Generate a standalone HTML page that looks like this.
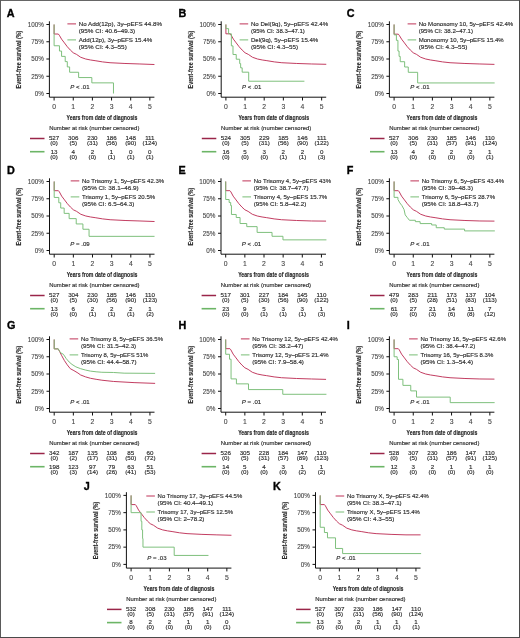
<!DOCTYPE html>
<html><head><meta charset="utf-8"><style>
html,body{margin:0;padding:0;background:#fff;}
body{width:520px;height:638px;overflow:hidden;}
svg{display:block;filter:blur(0.35px);}
text{font-family:"Liberation Sans",sans-serif;fill:#2c2c2c;}
.t{font-size:6.2px;stroke:#2c2c2c;stroke-width:0.15px;}
.tk{font-size:6.8px;fill:#444;stroke:#444;stroke-width:0.1px;}
.lab{font-size:10.8px;font-weight:bold;fill:#000;stroke:#000;stroke-width:0.35px;}
.ytitle,.xtitle{font-size:8px;font-weight:bold;fill:#2a2a2a;stroke:#2a2a2a;stroke-width:0.15px;}
.ax{stroke:#111;stroke-width:1;fill:none;}
.cr{stroke:#bf3358;stroke-width:0.95;fill:none;stroke-linejoin:round;}
.cg{stroke:#78bd76;stroke-width:0.95;fill:none;}
.lr{stroke:#bf3358;stroke-width:1;}
.lg{stroke:#78bd76;stroke-width:1;}
.rr{stroke:#9a2549;stroke-width:1.5;}
.rg{stroke:#6cb566;stroke-width:1.6;}
</style></head>
<body><svg width="520" height="638" viewBox="0 0 520 638">
<rect x="0" y="0" width="520" height="638" fill="#fff"/>
<text x="6.8" y="16.8" class="lab">A</text>
<text transform="translate(21.1,59.6) rotate(-90)" class="ytitle" text-anchor="middle" textLength="57.6" lengthAdjust="spacingAndGlyphs">Event-free survival (%)</text>
<line x1="46.4" y1="24.5" x2="49.4" y2="24.5" class="ax"/>
<text x="43.8" y="26.8" class="tk" text-anchor="end" textLength="16.17" lengthAdjust="spacingAndGlyphs">100%</text>
<line x1="46.4" y1="41.75" x2="49.4" y2="41.75" class="ax"/>
<text x="43.8" y="44.05" class="tk" text-anchor="end" textLength="12.66" lengthAdjust="spacingAndGlyphs">75%</text>
<line x1="46.4" y1="59" x2="49.4" y2="59" class="ax"/>
<text x="43.8" y="61.3" class="tk" text-anchor="end" textLength="12.66" lengthAdjust="spacingAndGlyphs">50%</text>
<line x1="46.4" y1="76.25" x2="49.4" y2="76.25" class="ax"/>
<text x="43.8" y="78.55" class="tk" text-anchor="end" textLength="12.66" lengthAdjust="spacingAndGlyphs">25%</text>
<line x1="46.4" y1="93.5" x2="49.4" y2="93.5" class="ax"/>
<text x="43.8" y="95.8" class="tk" text-anchor="end" textLength="9.14" lengthAdjust="spacingAndGlyphs">0%</text>
<path d="M54.1,24.5 L54.1,34.02 L58.31,34.02 L59.27,35.2 L61.57,39.13 L64.44,42.92 L67.31,46.72 L70.38,50.1 L73.25,52.79 L76.51,54.38 L80.72,57.27 L85.7,59 L90.48,59.97 L95.08,60.66 L102.55,61.9 L110.02,62.73 L124.96,63.48 L139.89,63.97 L154.45,64.52" class="cr"/>
<path d="M54.1,24.5 L54.1,45.75 L59.46,45.75 L59.46,51.06 L61.57,51.06 L61.57,56.38 L65.21,56.38 L65.21,61.62 L67.31,61.62 L67.31,66.94 L69.61,66.94 L69.61,72.25 L78.61,72.25 L78.61,77.56 L91.83,77.56 L91.83,82.87 L113.47,82.87 L113.47,93.5 L113.47,93.5" class="cg"/>
<path d="M49.4,21.3 L49.4,97.2 L154.4,97.2" class="ax" fill="none"/>
<line x1="54.1" y1="97.2" x2="54.1" y2="100.5" class="ax"/>
<text x="54.1" y="108.8" class="tk" text-anchor="middle">0</text>
<line x1="73.25" y1="97.2" x2="73.25" y2="100.5" class="ax"/>
<text x="73.25" y="108.8" class="tk" text-anchor="middle">1</text>
<line x1="92.4" y1="97.2" x2="92.4" y2="100.5" class="ax"/>
<text x="92.4" y="108.8" class="tk" text-anchor="middle">2</text>
<line x1="111.55" y1="97.2" x2="111.55" y2="100.5" class="ax"/>
<text x="111.55" y="108.8" class="tk" text-anchor="middle">3</text>
<line x1="130.7" y1="97.2" x2="130.7" y2="100.5" class="ax"/>
<text x="130.7" y="108.8" class="tk" text-anchor="middle">4</text>
<line x1="149.85" y1="97.2" x2="149.85" y2="100.5" class="ax"/>
<text x="149.85" y="108.8" class="tk" text-anchor="middle">5</text>
<text x="102" y="119.7" class="xtitle" text-anchor="middle" textLength="70.8" lengthAdjust="spacingAndGlyphs">Years from date of diagnosis</text>
<line x1="67.4" y1="23.9" x2="76" y2="23.9" class="lr"/>
<line x1="67.4" y1="39.9" x2="76" y2="39.9" class="lg"/>
<text x="78.7" y="26.2" class="t" textLength="83.3" lengthAdjust="spacingAndGlyphs">No Add(12p), 3y–pEFS 44.8%</text>
<text x="78.7" y="33.2" class="t" textLength="56.5" lengthAdjust="spacingAndGlyphs">(95% CI: 40.6–49.3)</text>
<text x="78.7" y="41.7" class="t" textLength="73.5" lengthAdjust="spacingAndGlyphs">Add(12p), 3y–pEFS 15.4%</text>
<text x="78.7" y="48.7" class="t" textLength="48.1" lengthAdjust="spacingAndGlyphs">(95% CI: 4.3–55)</text>
<text x="70.2" y="88.8" class="t" textLength="19.3" lengthAdjust="spacingAndGlyphs"><tspan font-style="italic">P</tspan> &lt; .01</text>
<text x="49.2" y="130.4" class="t" textLength="90.2" lengthAdjust="spacingAndGlyphs">Number at risk (number censored)</text>
<line x1="30" y1="138.5" x2="44.5" y2="138.5" class="rr"/>
<line x1="30" y1="151.7" x2="44.5" y2="151.7" class="rg"/>
<text x="54.1" y="140.3" class="t" text-anchor="middle">527</text>
<text x="54.1" y="145.4" class="t" text-anchor="middle">(0)</text>
<text x="73.25" y="140.3" class="t" text-anchor="middle">306</text>
<text x="73.25" y="145.4" class="t" text-anchor="middle">(5)</text>
<text x="92.4" y="140.3" class="t" text-anchor="middle">230</text>
<text x="92.4" y="145.4" class="t" text-anchor="middle">(31)</text>
<text x="111.55" y="140.3" class="t" text-anchor="middle">186</text>
<text x="111.55" y="145.4" class="t" text-anchor="middle">(56)</text>
<text x="130.7" y="140.3" class="t" text-anchor="middle">148</text>
<text x="130.7" y="145.4" class="t" text-anchor="middle">(90)</text>
<text x="149.85" y="140.3" class="t" text-anchor="middle">111</text>
<text x="149.85" y="145.4" class="t" text-anchor="middle">(124)</text>
<text x="54.1" y="153.8" class="t" text-anchor="middle">13</text>
<text x="54.1" y="158.7" class="t" text-anchor="middle">(0)</text>
<text x="73.25" y="153.8" class="t" text-anchor="middle">4</text>
<text x="73.25" y="158.7" class="t" text-anchor="middle">(0)</text>
<text x="92.4" y="153.8" class="t" text-anchor="middle">2</text>
<text x="92.4" y="158.7" class="t" text-anchor="middle">(0)</text>
<text x="111.55" y="153.8" class="t" text-anchor="middle">1</text>
<text x="111.55" y="158.7" class="t" text-anchor="middle">(1)</text>
<text x="130.7" y="153.8" class="t" text-anchor="middle">0</text>
<text x="130.7" y="158.7" class="t" text-anchor="middle">(1)</text>
<text x="149.85" y="153.8" class="t" text-anchor="middle">0</text>
<text x="149.85" y="158.7" class="t" text-anchor="middle">(1)</text>
<text x="178.6" y="16.8" class="lab">B</text>
<text transform="translate(192.9,59.6) rotate(-90)" class="ytitle" text-anchor="middle" textLength="57.6" lengthAdjust="spacingAndGlyphs">Event-free survival (%)</text>
<line x1="218.2" y1="24.5" x2="221.2" y2="24.5" class="ax"/>
<text x="215.6" y="26.8" class="tk" text-anchor="end" textLength="16.17" lengthAdjust="spacingAndGlyphs">100%</text>
<line x1="218.2" y1="41.75" x2="221.2" y2="41.75" class="ax"/>
<text x="215.6" y="44.05" class="tk" text-anchor="end" textLength="12.66" lengthAdjust="spacingAndGlyphs">75%</text>
<line x1="218.2" y1="59" x2="221.2" y2="59" class="ax"/>
<text x="215.6" y="61.3" class="tk" text-anchor="end" textLength="12.66" lengthAdjust="spacingAndGlyphs">50%</text>
<line x1="218.2" y1="76.25" x2="221.2" y2="76.25" class="ax"/>
<text x="215.6" y="78.55" class="tk" text-anchor="end" textLength="12.66" lengthAdjust="spacingAndGlyphs">25%</text>
<line x1="218.2" y1="93.5" x2="221.2" y2="93.5" class="ax"/>
<text x="215.6" y="95.8" class="tk" text-anchor="end" textLength="9.14" lengthAdjust="spacingAndGlyphs">0%</text>
<path d="M225.9,24.5 L225.9,33.81 L230.11,33.81 L231.07,34.99 L233.37,39.13 L236.24,42.92 L239.11,46.72 L242.18,50.1 L245.05,52.79 L248.31,54.38 L252.52,57.27 L257.5,59 L262.28,59.97 L266.88,60.66 L274.35,61.9 L281.82,62.73 L296.75,63.48 L311.69,63.97 L326.25,64.31" class="cr"/>
<path d="M225.9,24.5 L225.9,24.5 L225.9,28.64 L228.58,28.64 L228.58,33.81 L231.36,33.81 L231.36,45.89 L232.99,45.89 L232.99,54.52 L236.24,54.52 L236.24,59.21 L239.69,59.21 L239.69,63.62 L240.65,63.62 L240.65,67.83 L242.18,67.83 L242.18,72.18 L248.69,72.18 L248.69,81.22 L304.41,81.22" class="cg"/>
<path d="M221.2,21.3 L221.2,97.2 L326.2,97.2" class="ax" fill="none"/>
<line x1="225.9" y1="97.2" x2="225.9" y2="100.5" class="ax"/>
<text x="225.9" y="108.8" class="tk" text-anchor="middle">0</text>
<line x1="245.05" y1="97.2" x2="245.05" y2="100.5" class="ax"/>
<text x="245.05" y="108.8" class="tk" text-anchor="middle">1</text>
<line x1="264.2" y1="97.2" x2="264.2" y2="100.5" class="ax"/>
<text x="264.2" y="108.8" class="tk" text-anchor="middle">2</text>
<line x1="283.35" y1="97.2" x2="283.35" y2="100.5" class="ax"/>
<text x="283.35" y="108.8" class="tk" text-anchor="middle">3</text>
<line x1="302.5" y1="97.2" x2="302.5" y2="100.5" class="ax"/>
<text x="302.5" y="108.8" class="tk" text-anchor="middle">4</text>
<line x1="321.65" y1="97.2" x2="321.65" y2="100.5" class="ax"/>
<text x="321.65" y="108.8" class="tk" text-anchor="middle">5</text>
<text x="273.8" y="119.7" class="xtitle" text-anchor="middle" textLength="70.8" lengthAdjust="spacingAndGlyphs">Years from date of diagnosis</text>
<line x1="239.6" y1="23.9" x2="248.2" y2="23.9" class="lr"/>
<line x1="239.6" y1="39.9" x2="248.2" y2="39.9" class="lg"/>
<text x="250.9" y="26.2" class="t" textLength="77.2" lengthAdjust="spacingAndGlyphs">No Del(9q), 5y–pEFS 42.4%</text>
<text x="250.9" y="33.2" class="t" textLength="54" lengthAdjust="spacingAndGlyphs">(95% CI: 38.3–47.1)</text>
<text x="250.9" y="41.7" class="t" textLength="67.4" lengthAdjust="spacingAndGlyphs">Del(9q), 5y–pEFS 15.4%</text>
<text x="250.9" y="48.7" class="t" textLength="47.1" lengthAdjust="spacingAndGlyphs">(95% CI: 4.3–55)</text>
<text x="242" y="88.8" class="t" textLength="19.3" lengthAdjust="spacingAndGlyphs"><tspan font-style="italic">P</tspan> &lt; .01</text>
<text x="221" y="130.4" class="t" textLength="90.2" lengthAdjust="spacingAndGlyphs">Number at risk (number censored)</text>
<line x1="201.8" y1="138.5" x2="216.3" y2="138.5" class="rr"/>
<line x1="201.8" y1="151.7" x2="216.3" y2="151.7" class="rg"/>
<text x="225.9" y="140.3" class="t" text-anchor="middle">524</text>
<text x="225.9" y="145.4" class="t" text-anchor="middle">(0)</text>
<text x="245.05" y="140.3" class="t" text-anchor="middle">305</text>
<text x="245.05" y="145.4" class="t" text-anchor="middle">(5)</text>
<text x="264.2" y="140.3" class="t" text-anchor="middle">229</text>
<text x="264.2" y="145.4" class="t" text-anchor="middle">(31)</text>
<text x="283.35" y="140.3" class="t" text-anchor="middle">185</text>
<text x="283.35" y="145.4" class="t" text-anchor="middle">(56)</text>
<text x="302.5" y="140.3" class="t" text-anchor="middle">146</text>
<text x="302.5" y="145.4" class="t" text-anchor="middle">(90)</text>
<text x="321.65" y="140.3" class="t" text-anchor="middle">111</text>
<text x="321.65" y="145.4" class="t" text-anchor="middle">(122)</text>
<text x="225.9" y="153.8" class="t" text-anchor="middle">16</text>
<text x="225.9" y="158.7" class="t" text-anchor="middle">(0)</text>
<text x="245.05" y="153.8" class="t" text-anchor="middle">5</text>
<text x="245.05" y="158.7" class="t" text-anchor="middle">(0)</text>
<text x="264.2" y="153.8" class="t" text-anchor="middle">3</text>
<text x="264.2" y="158.7" class="t" text-anchor="middle">(0)</text>
<text x="283.35" y="153.8" class="t" text-anchor="middle">2</text>
<text x="283.35" y="158.7" class="t" text-anchor="middle">(1)</text>
<text x="302.5" y="153.8" class="t" text-anchor="middle">2</text>
<text x="302.5" y="158.7" class="t" text-anchor="middle">(1)</text>
<text x="321.65" y="153.8" class="t" text-anchor="middle">0</text>
<text x="321.65" y="158.7" class="t" text-anchor="middle">(3)</text>
<text x="346.8" y="16.8" class="lab">C</text>
<text transform="translate(361.1,59.6) rotate(-90)" class="ytitle" text-anchor="middle" textLength="57.6" lengthAdjust="spacingAndGlyphs">Event-free survival (%)</text>
<line x1="386.4" y1="24.5" x2="389.4" y2="24.5" class="ax"/>
<text x="383.8" y="26.8" class="tk" text-anchor="end" textLength="16.17" lengthAdjust="spacingAndGlyphs">100%</text>
<line x1="386.4" y1="41.75" x2="389.4" y2="41.75" class="ax"/>
<text x="383.8" y="44.05" class="tk" text-anchor="end" textLength="12.66" lengthAdjust="spacingAndGlyphs">75%</text>
<line x1="386.4" y1="59" x2="389.4" y2="59" class="ax"/>
<text x="383.8" y="61.3" class="tk" text-anchor="end" textLength="12.66" lengthAdjust="spacingAndGlyphs">50%</text>
<line x1="386.4" y1="76.25" x2="389.4" y2="76.25" class="ax"/>
<text x="383.8" y="78.55" class="tk" text-anchor="end" textLength="12.66" lengthAdjust="spacingAndGlyphs">25%</text>
<line x1="386.4" y1="93.5" x2="389.4" y2="93.5" class="ax"/>
<text x="383.8" y="95.8" class="tk" text-anchor="end" textLength="9.14" lengthAdjust="spacingAndGlyphs">0%</text>
<path d="M394.1,24.5 L394.1,34.16 L398.31,34.16 L399.27,35.33 L401.57,39.13 L404.44,42.92 L407.31,46.72 L410.38,50.1 L413.25,52.79 L416.51,54.38 L420.72,57.27 L425.7,59 L430.48,59.97 L435.08,60.66 L442.55,61.9 L450.02,62.73 L464.95,63.48 L479.89,63.97 L494.45,64.38" class="cr"/>
<path d="M394.1,24.5 L394.1,24.5 L394.1,34.85 L396.4,34.85 L396.4,40.37 L397.93,40.37 L397.93,51.06 L399.08,51.06 L399.08,56.38 L400.23,56.38 L400.23,61.69 L404.63,61.69 L404.63,67 L408.27,67 L408.27,72.32 L417.65,72.32 L417.65,82.94 L494.64,82.94" class="cg"/>
<path d="M389.4,21.3 L389.4,97.2 L494.4,97.2" class="ax" fill="none"/>
<line x1="394.1" y1="97.2" x2="394.1" y2="100.5" class="ax"/>
<text x="394.1" y="108.8" class="tk" text-anchor="middle">0</text>
<line x1="413.25" y1="97.2" x2="413.25" y2="100.5" class="ax"/>
<text x="413.25" y="108.8" class="tk" text-anchor="middle">1</text>
<line x1="432.4" y1="97.2" x2="432.4" y2="100.5" class="ax"/>
<text x="432.4" y="108.8" class="tk" text-anchor="middle">2</text>
<line x1="451.55" y1="97.2" x2="451.55" y2="100.5" class="ax"/>
<text x="451.55" y="108.8" class="tk" text-anchor="middle">3</text>
<line x1="470.7" y1="97.2" x2="470.7" y2="100.5" class="ax"/>
<text x="470.7" y="108.8" class="tk" text-anchor="middle">4</text>
<line x1="489.85" y1="97.2" x2="489.85" y2="100.5" class="ax"/>
<text x="489.85" y="108.8" class="tk" text-anchor="middle">5</text>
<text x="442" y="119.7" class="xtitle" text-anchor="middle" textLength="70.8" lengthAdjust="spacingAndGlyphs">Years from date of diagnosis</text>
<line x1="407.6" y1="23.9" x2="416.2" y2="23.9" class="lr"/>
<line x1="407.6" y1="39.9" x2="416.2" y2="39.9" class="lg"/>
<text x="418.7" y="26.2" class="t" textLength="94.5" lengthAdjust="spacingAndGlyphs">No Monosomy 10, 5y–pEFS 42.4%</text>
<text x="418.7" y="33.2" class="t" textLength="54.3" lengthAdjust="spacingAndGlyphs">(95% CI: 38.2–47.1)</text>
<text x="418.7" y="41.7" class="t" textLength="85" lengthAdjust="spacingAndGlyphs">Monosomy 10, 5y–pEFS 15.4%</text>
<text x="418.7" y="48.7" class="t" textLength="48.7" lengthAdjust="spacingAndGlyphs">(95% CI: 4.3–55)</text>
<text x="410.2" y="88.8" class="t" textLength="19.3" lengthAdjust="spacingAndGlyphs"><tspan font-style="italic">P</tspan> &lt; .01</text>
<text x="389.2" y="130.4" class="t" textLength="90.2" lengthAdjust="spacingAndGlyphs">Number at risk (number censored)</text>
<line x1="370" y1="138.5" x2="384.5" y2="138.5" class="rr"/>
<line x1="370" y1="151.7" x2="384.5" y2="151.7" class="rg"/>
<text x="394.1" y="140.3" class="t" text-anchor="middle">527</text>
<text x="394.1" y="145.4" class="t" text-anchor="middle">(0)</text>
<text x="413.25" y="140.3" class="t" text-anchor="middle">306</text>
<text x="413.25" y="145.4" class="t" text-anchor="middle">(5)</text>
<text x="432.4" y="140.3" class="t" text-anchor="middle">230</text>
<text x="432.4" y="145.4" class="t" text-anchor="middle">(31)</text>
<text x="451.55" y="140.3" class="t" text-anchor="middle">185</text>
<text x="451.55" y="145.4" class="t" text-anchor="middle">(57)</text>
<text x="470.7" y="140.3" class="t" text-anchor="middle">146</text>
<text x="470.7" y="145.4" class="t" text-anchor="middle">(91)</text>
<text x="489.85" y="140.3" class="t" text-anchor="middle">110</text>
<text x="489.85" y="145.4" class="t" text-anchor="middle">(124)</text>
<text x="394.1" y="153.8" class="t" text-anchor="middle">13</text>
<text x="394.1" y="158.7" class="t" text-anchor="middle">(0)</text>
<text x="413.25" y="153.8" class="t" text-anchor="middle">4</text>
<text x="413.25" y="158.7" class="t" text-anchor="middle">(0)</text>
<text x="432.4" y="153.8" class="t" text-anchor="middle">2</text>
<text x="432.4" y="158.7" class="t" text-anchor="middle">(0)</text>
<text x="451.55" y="153.8" class="t" text-anchor="middle">2</text>
<text x="451.55" y="158.7" class="t" text-anchor="middle">(0)</text>
<text x="470.7" y="153.8" class="t" text-anchor="middle">2</text>
<text x="470.7" y="158.7" class="t" text-anchor="middle">(0)</text>
<text x="489.85" y="153.8" class="t" text-anchor="middle">1</text>
<text x="489.85" y="158.7" class="t" text-anchor="middle">(1)</text>
<text x="6.9" y="173.8" class="lab">D</text>
<text transform="translate(21.2,216.6) rotate(-90)" class="ytitle" text-anchor="middle" textLength="57.6" lengthAdjust="spacingAndGlyphs">Event-free survival (%)</text>
<line x1="46.5" y1="181.5" x2="49.5" y2="181.5" class="ax"/>
<text x="43.9" y="183.8" class="tk" text-anchor="end" textLength="16.17" lengthAdjust="spacingAndGlyphs">100%</text>
<line x1="46.5" y1="198.75" x2="49.5" y2="198.75" class="ax"/>
<text x="43.9" y="201.05" class="tk" text-anchor="end" textLength="12.66" lengthAdjust="spacingAndGlyphs">75%</text>
<line x1="46.5" y1="216" x2="49.5" y2="216" class="ax"/>
<text x="43.9" y="218.3" class="tk" text-anchor="end" textLength="12.66" lengthAdjust="spacingAndGlyphs">50%</text>
<line x1="46.5" y1="233.25" x2="49.5" y2="233.25" class="ax"/>
<text x="43.9" y="235.55" class="tk" text-anchor="end" textLength="12.66" lengthAdjust="spacingAndGlyphs">25%</text>
<line x1="46.5" y1="250.5" x2="49.5" y2="250.5" class="ax"/>
<text x="43.9" y="252.8" class="tk" text-anchor="end" textLength="9.14" lengthAdjust="spacingAndGlyphs">0%</text>
<path d="M54.2,181.5 L54.2,190.68 L58.41,190.68 L59.37,191.85 L61.67,196.13 L64.54,199.92 L67.41,203.72 L70.48,207.1 L73.35,209.79 L76.61,211.38 L80.82,214.28 L85.8,216 L90.59,216.97 L95.18,217.66 L102.65,218.9 L110.12,219.73 L125.06,220.49 L139.99,220.97 L154.55,221.52" class="cr"/>
<path d="M54.2,181.5 L54.2,181.5 L54.2,197.44 L58.8,197.44 L58.8,202.75 L60.71,202.75 L60.71,208.06 L64.16,208.06 L64.16,213.38 L69.14,213.38 L69.14,218.62 L76.22,218.62 L76.22,223.94 L82.92,223.94 L82.92,229.25 L89.05,229.25 L89.05,236.35 L154.55,236.35" class="cg"/>
<path d="M49.5,178.3 L49.5,254.2 L154.5,254.2" class="ax" fill="none"/>
<line x1="54.2" y1="254.2" x2="54.2" y2="257.5" class="ax"/>
<text x="54.2" y="265.8" class="tk" text-anchor="middle">0</text>
<line x1="73.35" y1="254.2" x2="73.35" y2="257.5" class="ax"/>
<text x="73.35" y="265.8" class="tk" text-anchor="middle">1</text>
<line x1="92.5" y1="254.2" x2="92.5" y2="257.5" class="ax"/>
<text x="92.5" y="265.8" class="tk" text-anchor="middle">2</text>
<line x1="111.65" y1="254.2" x2="111.65" y2="257.5" class="ax"/>
<text x="111.65" y="265.8" class="tk" text-anchor="middle">3</text>
<line x1="130.8" y1="254.2" x2="130.8" y2="257.5" class="ax"/>
<text x="130.8" y="265.8" class="tk" text-anchor="middle">4</text>
<line x1="149.95" y1="254.2" x2="149.95" y2="257.5" class="ax"/>
<text x="149.95" y="265.8" class="tk" text-anchor="middle">5</text>
<text x="102.1" y="276.7" class="xtitle" text-anchor="middle" textLength="70.8" lengthAdjust="spacingAndGlyphs">Years from date of diagnosis</text>
<line x1="70.7" y1="180.9" x2="79.3" y2="180.9" class="lr"/>
<line x1="70.7" y1="196.9" x2="79.3" y2="196.9" class="lg"/>
<text x="82" y="183.2" class="t" textLength="82.1" lengthAdjust="spacingAndGlyphs">No Trisomy 1, 5y–pEFS 42.3%</text>
<text x="82" y="190.2" class="t" textLength="56.6" lengthAdjust="spacingAndGlyphs">(95% CI: 38.1–46.9)</text>
<text x="82" y="198.7" class="t" textLength="73.1" lengthAdjust="spacingAndGlyphs">Trisomy 1, 5y–pEFS 20.5%</text>
<text x="82" y="205.7" class="t" textLength="52.3" lengthAdjust="spacingAndGlyphs">(95% CI: 6.5–64.3)</text>
<text x="70.3" y="245.8" class="t" textLength="19.3" lengthAdjust="spacingAndGlyphs"><tspan font-style="italic">P</tspan> = .09</text>
<text x="49.3" y="287.4" class="t" textLength="90.2" lengthAdjust="spacingAndGlyphs">Number at risk (number censored)</text>
<line x1="30.1" y1="295.5" x2="44.6" y2="295.5" class="rr"/>
<line x1="30.1" y1="308.7" x2="44.6" y2="308.7" class="rg"/>
<text x="54.2" y="297.3" class="t" text-anchor="middle">527</text>
<text x="54.2" y="302.4" class="t" text-anchor="middle">(0)</text>
<text x="73.35" y="297.3" class="t" text-anchor="middle">304</text>
<text x="73.35" y="302.4" class="t" text-anchor="middle">(5)</text>
<text x="92.5" y="297.3" class="t" text-anchor="middle">230</text>
<text x="92.5" y="302.4" class="t" text-anchor="middle">(30)</text>
<text x="111.65" y="297.3" class="t" text-anchor="middle">185</text>
<text x="111.65" y="302.4" class="t" text-anchor="middle">(56)</text>
<text x="130.8" y="297.3" class="t" text-anchor="middle">146</text>
<text x="130.8" y="302.4" class="t" text-anchor="middle">(90)</text>
<text x="149.95" y="297.3" class="t" text-anchor="middle">110</text>
<text x="149.95" y="302.4" class="t" text-anchor="middle">(123)</text>
<text x="54.2" y="310.8" class="t" text-anchor="middle">13</text>
<text x="54.2" y="315.7" class="t" text-anchor="middle">(0)</text>
<text x="73.35" y="310.8" class="t" text-anchor="middle">6</text>
<text x="73.35" y="315.7" class="t" text-anchor="middle">(0)</text>
<text x="92.5" y="310.8" class="t" text-anchor="middle">2</text>
<text x="92.5" y="315.7" class="t" text-anchor="middle">(1)</text>
<text x="111.65" y="310.8" class="t" text-anchor="middle">2</text>
<text x="111.65" y="315.7" class="t" text-anchor="middle">(1)</text>
<text x="130.8" y="310.8" class="t" text-anchor="middle">2</text>
<text x="130.8" y="315.7" class="t" text-anchor="middle">(1)</text>
<text x="149.95" y="310.8" class="t" text-anchor="middle">1</text>
<text x="149.95" y="315.7" class="t" text-anchor="middle">(2)</text>
<text x="178.4" y="173.8" class="lab">E</text>
<text transform="translate(192.7,216.6) rotate(-90)" class="ytitle" text-anchor="middle" textLength="57.6" lengthAdjust="spacingAndGlyphs">Event-free survival (%)</text>
<line x1="218" y1="181.5" x2="221" y2="181.5" class="ax"/>
<text x="215.4" y="183.8" class="tk" text-anchor="end" textLength="16.17" lengthAdjust="spacingAndGlyphs">100%</text>
<line x1="218" y1="198.75" x2="221" y2="198.75" class="ax"/>
<text x="215.4" y="201.05" class="tk" text-anchor="end" textLength="12.66" lengthAdjust="spacingAndGlyphs">75%</text>
<line x1="218" y1="216" x2="221" y2="216" class="ax"/>
<text x="215.4" y="218.3" class="tk" text-anchor="end" textLength="12.66" lengthAdjust="spacingAndGlyphs">50%</text>
<line x1="218" y1="233.25" x2="221" y2="233.25" class="ax"/>
<text x="215.4" y="235.55" class="tk" text-anchor="end" textLength="12.66" lengthAdjust="spacingAndGlyphs">25%</text>
<line x1="218" y1="250.5" x2="221" y2="250.5" class="ax"/>
<text x="215.4" y="252.8" class="tk" text-anchor="end" textLength="9.14" lengthAdjust="spacingAndGlyphs">0%</text>
<path d="M225.7,181.5 L225.7,190.68 L229.91,190.68 L230.87,191.85 L233.17,196.13 L236.04,199.92 L238.91,203.72 L241.98,207.1 L244.85,209.79 L248.11,211.38 L252.32,214.28 L257.3,216 L262.08,216.97 L266.68,217.66 L274.15,218.9 L281.62,219.73 L296.56,220.49 L311.49,220.97 L326.05,221.11" class="cr"/>
<path d="M225.7,181.5 L225.7,181.5 L225.7,199.51 L229.15,199.51 L229.15,202.48 L230.68,202.48 L230.68,205.51 L231.44,205.51 L231.44,214.48 L236.23,214.48 L236.23,217.52 L240.06,217.52 L240.06,223.52 L246.76,223.52 L246.76,226.63 L257.11,226.63 L257.11,232.42 L272.04,232.42 L272.04,236.29 L282.96,236.29 L282.96,239.87 L326.43,239.87" class="cg"/>
<path d="M221,178.3 L221,254.2 L326,254.2" class="ax" fill="none"/>
<line x1="225.7" y1="254.2" x2="225.7" y2="257.5" class="ax"/>
<text x="225.7" y="265.8" class="tk" text-anchor="middle">0</text>
<line x1="244.85" y1="254.2" x2="244.85" y2="257.5" class="ax"/>
<text x="244.85" y="265.8" class="tk" text-anchor="middle">1</text>
<line x1="264" y1="254.2" x2="264" y2="257.5" class="ax"/>
<text x="264" y="265.8" class="tk" text-anchor="middle">2</text>
<line x1="283.15" y1="254.2" x2="283.15" y2="257.5" class="ax"/>
<text x="283.15" y="265.8" class="tk" text-anchor="middle">3</text>
<line x1="302.3" y1="254.2" x2="302.3" y2="257.5" class="ax"/>
<text x="302.3" y="265.8" class="tk" text-anchor="middle">4</text>
<line x1="321.45" y1="254.2" x2="321.45" y2="257.5" class="ax"/>
<text x="321.45" y="265.8" class="tk" text-anchor="middle">5</text>
<text x="273.6" y="276.7" class="xtitle" text-anchor="middle" textLength="70.8" lengthAdjust="spacingAndGlyphs">Years from date of diagnosis</text>
<line x1="242.4" y1="180.9" x2="251" y2="180.9" class="lr"/>
<line x1="242.4" y1="196.9" x2="251" y2="196.9" class="lg"/>
<text x="253.7" y="183.2" class="t" textLength="77.4" lengthAdjust="spacingAndGlyphs">No Trisomy 4, 5y–pEFS 43%</text>
<text x="253.7" y="190.2" class="t" textLength="54.9" lengthAdjust="spacingAndGlyphs">(95% CI: 38.7–47.7)</text>
<text x="253.7" y="198.7" class="t" textLength="73.5" lengthAdjust="spacingAndGlyphs">Trisomy 4, 5y–pEFS 15.7%</text>
<text x="253.7" y="205.7" class="t" textLength="52.7" lengthAdjust="spacingAndGlyphs">(95% CI: 5.8–42.2)</text>
<text x="241.8" y="245.8" class="t" textLength="19.3" lengthAdjust="spacingAndGlyphs"><tspan font-style="italic">P</tspan> &lt; .01</text>
<text x="220.8" y="287.4" class="t" textLength="90.2" lengthAdjust="spacingAndGlyphs">Number at risk (number censored)</text>
<line x1="201.6" y1="295.5" x2="216.1" y2="295.5" class="rr"/>
<line x1="201.6" y1="308.7" x2="216.1" y2="308.7" class="rg"/>
<text x="225.7" y="297.3" class="t" text-anchor="middle">517</text>
<text x="225.7" y="302.4" class="t" text-anchor="middle">(0)</text>
<text x="244.85" y="297.3" class="t" text-anchor="middle">301</text>
<text x="244.85" y="302.4" class="t" text-anchor="middle">(5)</text>
<text x="264" y="297.3" class="t" text-anchor="middle">227</text>
<text x="264" y="302.4" class="t" text-anchor="middle">(30)</text>
<text x="283.15" y="297.3" class="t" text-anchor="middle">184</text>
<text x="283.15" y="302.4" class="t" text-anchor="middle">(56)</text>
<text x="302.3" y="297.3" class="t" text-anchor="middle">145</text>
<text x="302.3" y="302.4" class="t" text-anchor="middle">(90)</text>
<text x="321.45" y="297.3" class="t" text-anchor="middle">110</text>
<text x="321.45" y="302.4" class="t" text-anchor="middle">(122)</text>
<text x="225.7" y="310.8" class="t" text-anchor="middle">23</text>
<text x="225.7" y="315.7" class="t" text-anchor="middle">(0)</text>
<text x="244.85" y="310.8" class="t" text-anchor="middle">9</text>
<text x="244.85" y="315.7" class="t" text-anchor="middle">(0)</text>
<text x="264" y="310.8" class="t" text-anchor="middle">5</text>
<text x="264" y="315.7" class="t" text-anchor="middle">(1)</text>
<text x="283.15" y="310.8" class="t" text-anchor="middle">3</text>
<text x="283.15" y="315.7" class="t" text-anchor="middle">(1)</text>
<text x="302.3" y="310.8" class="t" text-anchor="middle">3</text>
<text x="302.3" y="315.7" class="t" text-anchor="middle">(1)</text>
<text x="321.45" y="310.8" class="t" text-anchor="middle">1</text>
<text x="321.45" y="315.7" class="t" text-anchor="middle">(3)</text>
<text x="346.8" y="173.8" class="lab">F</text>
<text transform="translate(361.1,216.6) rotate(-90)" class="ytitle" text-anchor="middle" textLength="57.6" lengthAdjust="spacingAndGlyphs">Event-free survival (%)</text>
<line x1="386.4" y1="181.5" x2="389.4" y2="181.5" class="ax"/>
<text x="383.8" y="183.8" class="tk" text-anchor="end" textLength="16.17" lengthAdjust="spacingAndGlyphs">100%</text>
<line x1="386.4" y1="198.75" x2="389.4" y2="198.75" class="ax"/>
<text x="383.8" y="201.05" class="tk" text-anchor="end" textLength="12.66" lengthAdjust="spacingAndGlyphs">75%</text>
<line x1="386.4" y1="216" x2="389.4" y2="216" class="ax"/>
<text x="383.8" y="218.3" class="tk" text-anchor="end" textLength="12.66" lengthAdjust="spacingAndGlyphs">50%</text>
<line x1="386.4" y1="233.25" x2="389.4" y2="233.25" class="ax"/>
<text x="383.8" y="235.55" class="tk" text-anchor="end" textLength="12.66" lengthAdjust="spacingAndGlyphs">25%</text>
<line x1="386.4" y1="250.5" x2="389.4" y2="250.5" class="ax"/>
<text x="383.8" y="252.8" class="tk" text-anchor="end" textLength="9.14" lengthAdjust="spacingAndGlyphs">0%</text>
<path d="M394.1,181.5 L394.1,190.68 L398.31,190.68 L399.27,191.85 L401.57,196.13 L404.44,199.92 L407.31,203.72 L410.38,207.1 L413.25,209.79 L416.51,211.38 L420.72,214.28 L425.7,216 L430.48,216.97 L435.08,217.66 L442.55,218.9 L450.02,219.73 L464.95,220.49 L479.89,220.97 L494.45,221.11" class="cr"/>
<path d="M394.1,181.5 L394.1,197.37 L397.93,197.37 L397.93,199.44 L399.84,202.89 L401.95,205.65 L404.06,209.51 L405.21,214.9 L407.31,217.59 L409.42,220.28 L415.36,220.28 L415.36,221.66 L420.14,221.66 L420.14,223.59 L431.63,223.59 L431.63,224.97 L436.23,224.97 L436.23,227.73 L444.27,227.73 L444.27,229.11 L464.57,229.11 L464.57,230.9 L494.83,230.9" class="cg"/>
<path d="M389.4,178.3 L389.4,254.2 L494.4,254.2" class="ax" fill="none"/>
<line x1="394.1" y1="254.2" x2="394.1" y2="257.5" class="ax"/>
<text x="394.1" y="265.8" class="tk" text-anchor="middle">0</text>
<line x1="413.25" y1="254.2" x2="413.25" y2="257.5" class="ax"/>
<text x="413.25" y="265.8" class="tk" text-anchor="middle">1</text>
<line x1="432.4" y1="254.2" x2="432.4" y2="257.5" class="ax"/>
<text x="432.4" y="265.8" class="tk" text-anchor="middle">2</text>
<line x1="451.55" y1="254.2" x2="451.55" y2="257.5" class="ax"/>
<text x="451.55" y="265.8" class="tk" text-anchor="middle">3</text>
<line x1="470.7" y1="254.2" x2="470.7" y2="257.5" class="ax"/>
<text x="470.7" y="265.8" class="tk" text-anchor="middle">4</text>
<line x1="489.85" y1="254.2" x2="489.85" y2="257.5" class="ax"/>
<text x="489.85" y="265.8" class="tk" text-anchor="middle">5</text>
<text x="442" y="276.7" class="xtitle" text-anchor="middle" textLength="70.8" lengthAdjust="spacingAndGlyphs">Years from date of diagnosis</text>
<line x1="410.4" y1="180.9" x2="419" y2="180.9" class="lr"/>
<line x1="410.4" y1="196.9" x2="419" y2="196.9" class="lg"/>
<text x="421.7" y="183.2" class="t" textLength="82.4" lengthAdjust="spacingAndGlyphs">No Trisomy 6, 5y–pEFS 43.4%</text>
<text x="421.7" y="190.2" class="t" textLength="51.3" lengthAdjust="spacingAndGlyphs">(95% CI: 39–48.3)</text>
<text x="421.7" y="198.7" class="t" textLength="73.4" lengthAdjust="spacingAndGlyphs">Trisomy 6, 5y–pEFS 28.7%</text>
<text x="421.7" y="205.7" class="t" textLength="56.9" lengthAdjust="spacingAndGlyphs">(95% CI: 18.8–43.7)</text>
<text x="410.2" y="245.8" class="t" textLength="19.3" lengthAdjust="spacingAndGlyphs"><tspan font-style="italic">P</tspan> &lt; .01</text>
<text x="389.2" y="287.4" class="t" textLength="90.2" lengthAdjust="spacingAndGlyphs">Number at risk (number censored)</text>
<line x1="370" y1="295.5" x2="384.5" y2="295.5" class="rr"/>
<line x1="370" y1="308.7" x2="384.5" y2="308.7" class="rg"/>
<text x="394.1" y="297.3" class="t" text-anchor="middle">479</text>
<text x="394.1" y="302.4" class="t" text-anchor="middle">(0)</text>
<text x="413.25" y="297.3" class="t" text-anchor="middle">283</text>
<text x="413.25" y="302.4" class="t" text-anchor="middle">(5)</text>
<text x="432.4" y="297.3" class="t" text-anchor="middle">211</text>
<text x="432.4" y="302.4" class="t" text-anchor="middle">(28)</text>
<text x="451.55" y="297.3" class="t" text-anchor="middle">173</text>
<text x="451.55" y="302.4" class="t" text-anchor="middle">(51)</text>
<text x="470.7" y="297.3" class="t" text-anchor="middle">137</text>
<text x="470.7" y="302.4" class="t" text-anchor="middle">(83)</text>
<text x="489.85" y="297.3" class="t" text-anchor="middle">104</text>
<text x="489.85" y="302.4" class="t" text-anchor="middle">(113)</text>
<text x="394.1" y="310.8" class="t" text-anchor="middle">61</text>
<text x="394.1" y="315.7" class="t" text-anchor="middle">(0)</text>
<text x="413.25" y="310.8" class="t" text-anchor="middle">27</text>
<text x="413.25" y="315.7" class="t" text-anchor="middle">(0)</text>
<text x="432.4" y="310.8" class="t" text-anchor="middle">21</text>
<text x="432.4" y="315.7" class="t" text-anchor="middle">(3)</text>
<text x="451.55" y="310.8" class="t" text-anchor="middle">14</text>
<text x="451.55" y="315.7" class="t" text-anchor="middle">(6)</text>
<text x="470.7" y="310.8" class="t" text-anchor="middle">11</text>
<text x="470.7" y="315.7" class="t" text-anchor="middle">(8)</text>
<text x="489.85" y="310.8" class="t" text-anchor="middle">7</text>
<text x="489.85" y="315.7" class="t" text-anchor="middle">(12)</text>
<text x="6.9" y="329.4" class="lab">G</text>
<text transform="translate(21.2,374.6) rotate(-90)" class="ytitle" text-anchor="middle" textLength="57.6" lengthAdjust="spacingAndGlyphs">Event-free survival (%)</text>
<line x1="46.5" y1="339.5" x2="49.5" y2="339.5" class="ax"/>
<text x="43.9" y="341.8" class="tk" text-anchor="end" textLength="16.17" lengthAdjust="spacingAndGlyphs">100%</text>
<line x1="46.5" y1="356.75" x2="49.5" y2="356.75" class="ax"/>
<text x="43.9" y="359.05" class="tk" text-anchor="end" textLength="12.66" lengthAdjust="spacingAndGlyphs">75%</text>
<line x1="46.5" y1="374" x2="49.5" y2="374" class="ax"/>
<text x="43.9" y="376.3" class="tk" text-anchor="end" textLength="12.66" lengthAdjust="spacingAndGlyphs">50%</text>
<line x1="46.5" y1="391.25" x2="49.5" y2="391.25" class="ax"/>
<text x="43.9" y="393.55" class="tk" text-anchor="end" textLength="12.66" lengthAdjust="spacingAndGlyphs">25%</text>
<line x1="46.5" y1="408.5" x2="49.5" y2="408.5" class="ax"/>
<text x="43.9" y="410.8" class="tk" text-anchor="end" textLength="9.14" lengthAdjust="spacingAndGlyphs">0%</text>
<path d="M54.2,339.5 L54.2,348.88 L58.22,348.88 L59.56,351.37 L61.48,355.23 L64.35,360.48 L67.22,364.82 L70.29,368.69 L73.92,370.62 L77.95,373.03 L80.63,374.97 L85.61,376.9 L90.39,378.28 L96.14,379.31 L101.88,380.21 L113.37,381.45 L134.06,382.62 L155.12,383.38" class="cr"/>
<path d="M54.2,339.5 L54.2,348.88 L58.22,348.88 L59.56,351.37 L60.9,352.95 L63.39,354.27 L66.26,358.61 L69.14,361.99 L72.01,364.41 L75.84,366.82 L80.63,368.69 L85.61,370.07 L90.39,371.1 L96.14,371.79 L101.88,372.27 L113.37,372.48 L124.1,373.17 L155.12,373.38" class="cg"/>
<path d="M49.5,336.3 L49.5,412.2 L154.5,412.2" class="ax" fill="none"/>
<line x1="54.2" y1="412.2" x2="54.2" y2="415.5" class="ax"/>
<text x="54.2" y="423.8" class="tk" text-anchor="middle">0</text>
<line x1="73.35" y1="412.2" x2="73.35" y2="415.5" class="ax"/>
<text x="73.35" y="423.8" class="tk" text-anchor="middle">1</text>
<line x1="92.5" y1="412.2" x2="92.5" y2="415.5" class="ax"/>
<text x="92.5" y="423.8" class="tk" text-anchor="middle">2</text>
<line x1="111.65" y1="412.2" x2="111.65" y2="415.5" class="ax"/>
<text x="111.65" y="423.8" class="tk" text-anchor="middle">3</text>
<line x1="130.8" y1="412.2" x2="130.8" y2="415.5" class="ax"/>
<text x="130.8" y="423.8" class="tk" text-anchor="middle">4</text>
<line x1="149.95" y1="412.2" x2="149.95" y2="415.5" class="ax"/>
<text x="149.95" y="423.8" class="tk" text-anchor="middle">5</text>
<text x="102.1" y="434.7" class="xtitle" text-anchor="middle" textLength="70.8" lengthAdjust="spacingAndGlyphs">Years from date of diagnosis</text>
<line x1="69.6" y1="338.9" x2="78.2" y2="338.9" class="lr"/>
<line x1="69.6" y1="354.9" x2="78.2" y2="354.9" class="lg"/>
<text x="80.9" y="341.2" class="t" textLength="82.1" lengthAdjust="spacingAndGlyphs">No Trisomy 8, 5y–pEFS 36.5%</text>
<text x="80.9" y="348.2" class="t" textLength="55.3" lengthAdjust="spacingAndGlyphs">(95% CI: 31.5–42.3)</text>
<text x="80.9" y="356.7" class="t" textLength="67.4" lengthAdjust="spacingAndGlyphs">Trisomy 8, 5y–pEFS 51%</text>
<text x="80.9" y="363.7" class="t" textLength="55.7" lengthAdjust="spacingAndGlyphs">(95% CI: 44.4–58.7)</text>
<text x="70.3" y="403.8" class="t" textLength="19.3" lengthAdjust="spacingAndGlyphs"><tspan font-style="italic">P</tspan> &lt; .01</text>
<text x="49.3" y="445.4" class="t" textLength="90.2" lengthAdjust="spacingAndGlyphs">Number at risk (number censored)</text>
<line x1="30.1" y1="453.5" x2="44.6" y2="453.5" class="rr"/>
<line x1="30.1" y1="466.7" x2="44.6" y2="466.7" class="rg"/>
<text x="54.2" y="455.3" class="t" text-anchor="middle">342</text>
<text x="54.2" y="460.4" class="t" text-anchor="middle">(0)</text>
<text x="73.35" y="455.3" class="t" text-anchor="middle">187</text>
<text x="73.35" y="460.4" class="t" text-anchor="middle">(2)</text>
<text x="92.5" y="455.3" class="t" text-anchor="middle">135</text>
<text x="92.5" y="460.4" class="t" text-anchor="middle">(17)</text>
<text x="111.65" y="455.3" class="t" text-anchor="middle">108</text>
<text x="111.65" y="460.4" class="t" text-anchor="middle">(31)</text>
<text x="130.8" y="455.3" class="t" text-anchor="middle">85</text>
<text x="130.8" y="460.4" class="t" text-anchor="middle">(50)</text>
<text x="149.95" y="455.3" class="t" text-anchor="middle">60</text>
<text x="149.95" y="460.4" class="t" text-anchor="middle">(72)</text>
<text x="54.2" y="468.8" class="t" text-anchor="middle">198</text>
<text x="54.2" y="473.7" class="t" text-anchor="middle">(0)</text>
<text x="73.35" y="468.8" class="t" text-anchor="middle">123</text>
<text x="73.35" y="473.7" class="t" text-anchor="middle">(3)</text>
<text x="92.5" y="468.8" class="t" text-anchor="middle">97</text>
<text x="92.5" y="473.7" class="t" text-anchor="middle">(14)</text>
<text x="111.65" y="468.8" class="t" text-anchor="middle">79</text>
<text x="111.65" y="473.7" class="t" text-anchor="middle">(26)</text>
<text x="130.8" y="468.8" class="t" text-anchor="middle">63</text>
<text x="130.8" y="473.7" class="t" text-anchor="middle">(41)</text>
<text x="149.95" y="468.8" class="t" text-anchor="middle">51</text>
<text x="149.95" y="473.7" class="t" text-anchor="middle">(53)</text>
<text x="178.4" y="329.4" class="lab">H</text>
<text transform="translate(192.7,374.6) rotate(-90)" class="ytitle" text-anchor="middle" textLength="57.6" lengthAdjust="spacingAndGlyphs">Event-free survival (%)</text>
<line x1="218" y1="339.5" x2="221" y2="339.5" class="ax"/>
<text x="215.4" y="341.8" class="tk" text-anchor="end" textLength="16.17" lengthAdjust="spacingAndGlyphs">100%</text>
<line x1="218" y1="356.75" x2="221" y2="356.75" class="ax"/>
<text x="215.4" y="359.05" class="tk" text-anchor="end" textLength="12.66" lengthAdjust="spacingAndGlyphs">75%</text>
<line x1="218" y1="374" x2="221" y2="374" class="ax"/>
<text x="215.4" y="376.3" class="tk" text-anchor="end" textLength="12.66" lengthAdjust="spacingAndGlyphs">50%</text>
<line x1="218" y1="391.25" x2="221" y2="391.25" class="ax"/>
<text x="215.4" y="393.55" class="tk" text-anchor="end" textLength="12.66" lengthAdjust="spacingAndGlyphs">25%</text>
<line x1="218" y1="408.5" x2="221" y2="408.5" class="ax"/>
<text x="215.4" y="410.8" class="tk" text-anchor="end" textLength="9.14" lengthAdjust="spacingAndGlyphs">0%</text>
<path d="M225.7,339.5 L225.7,348.68 L229.91,348.68 L230.87,349.85 L233.17,354.13 L236.04,357.92 L238.91,361.72 L241.98,365.1 L244.85,367.79 L248.11,369.38 L252.32,372.27 L257.3,374 L262.08,374.97 L266.68,375.66 L274.15,376.9 L281.62,377.73 L296.56,378.49 L311.49,378.97 L326.05,379.38" class="cr"/>
<path d="M225.7,339.5 L225.7,339.5 L225.7,354.27 L229.53,354.27 L229.53,359.23 L231.06,359.23 L231.06,378.9 L236.42,378.9 L236.42,383.87 L248.49,383.87 L248.49,389.59 L282.77,389.59 L282.77,394.29 L326.43,394.29" class="cg"/>
<path d="M221,336.3 L221,412.2 L326,412.2" class="ax" fill="none"/>
<line x1="225.7" y1="412.2" x2="225.7" y2="415.5" class="ax"/>
<text x="225.7" y="423.8" class="tk" text-anchor="middle">0</text>
<line x1="244.85" y1="412.2" x2="244.85" y2="415.5" class="ax"/>
<text x="244.85" y="423.8" class="tk" text-anchor="middle">1</text>
<line x1="264" y1="412.2" x2="264" y2="415.5" class="ax"/>
<text x="264" y="423.8" class="tk" text-anchor="middle">2</text>
<line x1="283.15" y1="412.2" x2="283.15" y2="415.5" class="ax"/>
<text x="283.15" y="423.8" class="tk" text-anchor="middle">3</text>
<line x1="302.3" y1="412.2" x2="302.3" y2="415.5" class="ax"/>
<text x="302.3" y="423.8" class="tk" text-anchor="middle">4</text>
<line x1="321.45" y1="412.2" x2="321.45" y2="415.5" class="ax"/>
<text x="321.45" y="423.8" class="tk" text-anchor="middle">5</text>
<text x="273.6" y="434.7" class="xtitle" text-anchor="middle" textLength="70.8" lengthAdjust="spacingAndGlyphs">Years from date of diagnosis</text>
<line x1="240.9" y1="338.9" x2="249.5" y2="338.9" class="lr"/>
<line x1="240.9" y1="354.9" x2="249.5" y2="354.9" class="lg"/>
<text x="252.2" y="341.2" class="t" textLength="85.8" lengthAdjust="spacingAndGlyphs">No Trisomy 12, 5y–pEFS 42.4%</text>
<text x="252.2" y="348.2" class="t" textLength="51.2" lengthAdjust="spacingAndGlyphs">(95% CI: 38.2–47)</text>
<text x="252.2" y="356.7" class="t" textLength="76.3" lengthAdjust="spacingAndGlyphs">Trisomy 12, 5y–pEFS 21.4%</text>
<text x="252.2" y="363.7" class="t" textLength="51.7" lengthAdjust="spacingAndGlyphs">(95% CI: 7.9–58.4)</text>
<text x="241.8" y="403.8" class="t" textLength="19.3" lengthAdjust="spacingAndGlyphs"><tspan font-style="italic">P</tspan> = .01</text>
<text x="220.8" y="445.4" class="t" textLength="90.2" lengthAdjust="spacingAndGlyphs">Number at risk (number censored)</text>
<line x1="201.6" y1="453.5" x2="216.1" y2="453.5" class="rr"/>
<line x1="201.6" y1="466.7" x2="216.1" y2="466.7" class="rg"/>
<text x="225.7" y="455.3" class="t" text-anchor="middle">526</text>
<text x="225.7" y="460.4" class="t" text-anchor="middle">(0)</text>
<text x="244.85" y="455.3" class="t" text-anchor="middle">305</text>
<text x="244.85" y="460.4" class="t" text-anchor="middle">(5)</text>
<text x="264" y="455.3" class="t" text-anchor="middle">228</text>
<text x="264" y="460.4" class="t" text-anchor="middle">(31)</text>
<text x="283.15" y="455.3" class="t" text-anchor="middle">184</text>
<text x="283.15" y="460.4" class="t" text-anchor="middle">(57)</text>
<text x="302.3" y="455.3" class="t" text-anchor="middle">147</text>
<text x="302.3" y="460.4" class="t" text-anchor="middle">(89)</text>
<text x="321.45" y="455.3" class="t" text-anchor="middle">110</text>
<text x="321.45" y="460.4" class="t" text-anchor="middle">(123)</text>
<text x="225.7" y="468.8" class="t" text-anchor="middle">14</text>
<text x="225.7" y="473.7" class="t" text-anchor="middle">(0)</text>
<text x="244.85" y="468.8" class="t" text-anchor="middle">5</text>
<text x="244.85" y="473.7" class="t" text-anchor="middle">(0)</text>
<text x="264" y="468.8" class="t" text-anchor="middle">4</text>
<text x="264" y="473.7" class="t" text-anchor="middle">(0)</text>
<text x="283.15" y="468.8" class="t" text-anchor="middle">3</text>
<text x="283.15" y="473.7" class="t" text-anchor="middle">(0)</text>
<text x="302.3" y="468.8" class="t" text-anchor="middle">1</text>
<text x="302.3" y="473.7" class="t" text-anchor="middle">(2)</text>
<text x="321.45" y="468.8" class="t" text-anchor="middle">1</text>
<text x="321.45" y="473.7" class="t" text-anchor="middle">(2)</text>
<text x="346.8" y="329.4" class="lab">I</text>
<text transform="translate(361.1,374.6) rotate(-90)" class="ytitle" text-anchor="middle" textLength="57.6" lengthAdjust="spacingAndGlyphs">Event-free survival (%)</text>
<line x1="386.4" y1="339.5" x2="389.4" y2="339.5" class="ax"/>
<text x="383.8" y="341.8" class="tk" text-anchor="end" textLength="16.17" lengthAdjust="spacingAndGlyphs">100%</text>
<line x1="386.4" y1="356.75" x2="389.4" y2="356.75" class="ax"/>
<text x="383.8" y="359.05" class="tk" text-anchor="end" textLength="12.66" lengthAdjust="spacingAndGlyphs">75%</text>
<line x1="386.4" y1="374" x2="389.4" y2="374" class="ax"/>
<text x="383.8" y="376.3" class="tk" text-anchor="end" textLength="12.66" lengthAdjust="spacingAndGlyphs">50%</text>
<line x1="386.4" y1="391.25" x2="389.4" y2="391.25" class="ax"/>
<text x="383.8" y="393.55" class="tk" text-anchor="end" textLength="12.66" lengthAdjust="spacingAndGlyphs">25%</text>
<line x1="386.4" y1="408.5" x2="389.4" y2="408.5" class="ax"/>
<text x="383.8" y="410.8" class="tk" text-anchor="end" textLength="9.14" lengthAdjust="spacingAndGlyphs">0%</text>
<path d="M394.1,339.5 L394.1,348.68 L398.31,348.68 L399.27,349.85 L401.57,354.13 L404.44,357.92 L407.31,361.72 L410.38,365.1 L413.25,367.79 L416.51,369.38 L420.72,372.27 L425.7,374 L430.48,374.97 L435.08,375.66 L442.55,376.9 L450.02,377.73 L464.95,378.49 L479.89,378.97 L494.45,379.11" class="cr"/>
<path d="M394.1,339.5 L394.1,339.5 L394.1,356.75 L397.16,356.75 L397.16,359.51 L398.5,359.51 L398.5,379.31 L402.91,379.31 L402.91,385.38 L410.76,385.38 L410.76,390.9 L416.51,390.9 L416.51,397.12 L450.21,397.12 L450.21,402.63 L494.64,402.63" class="cg"/>
<path d="M389.4,336.3 L389.4,412.2 L494.4,412.2" class="ax" fill="none"/>
<line x1="394.1" y1="412.2" x2="394.1" y2="415.5" class="ax"/>
<text x="394.1" y="423.8" class="tk" text-anchor="middle">0</text>
<line x1="413.25" y1="412.2" x2="413.25" y2="415.5" class="ax"/>
<text x="413.25" y="423.8" class="tk" text-anchor="middle">1</text>
<line x1="432.4" y1="412.2" x2="432.4" y2="415.5" class="ax"/>
<text x="432.4" y="423.8" class="tk" text-anchor="middle">2</text>
<line x1="451.55" y1="412.2" x2="451.55" y2="415.5" class="ax"/>
<text x="451.55" y="423.8" class="tk" text-anchor="middle">3</text>
<line x1="470.7" y1="412.2" x2="470.7" y2="415.5" class="ax"/>
<text x="470.7" y="423.8" class="tk" text-anchor="middle">4</text>
<line x1="489.85" y1="412.2" x2="489.85" y2="415.5" class="ax"/>
<text x="489.85" y="423.8" class="tk" text-anchor="middle">5</text>
<text x="442" y="434.7" class="xtitle" text-anchor="middle" textLength="70.8" lengthAdjust="spacingAndGlyphs">Years from date of diagnosis</text>
<line x1="409.1" y1="338.9" x2="417.7" y2="338.9" class="lr"/>
<line x1="409.1" y1="354.9" x2="417.7" y2="354.9" class="lg"/>
<text x="420.4" y="341.2" class="t" textLength="85.6" lengthAdjust="spacingAndGlyphs">No Trisomy 16, 5y–pEFS 42.6%</text>
<text x="420.4" y="348.2" class="t" textLength="54.8" lengthAdjust="spacingAndGlyphs">(95% CI: 38.4–47.2)</text>
<text x="420.4" y="356.7" class="t" textLength="72.9" lengthAdjust="spacingAndGlyphs">Trisomy 16, 5y–pEFS 8.3%</text>
<text x="420.4" y="363.7" class="t" textLength="52.6" lengthAdjust="spacingAndGlyphs">(95% CI: 1.3–54.4)</text>
<text x="410.2" y="403.8" class="t" textLength="19.3" lengthAdjust="spacingAndGlyphs"><tspan font-style="italic">P</tspan> &lt; .01</text>
<text x="389.2" y="445.4" class="t" textLength="90.2" lengthAdjust="spacingAndGlyphs">Number at risk (number censored)</text>
<line x1="370" y1="453.5" x2="384.5" y2="453.5" class="rr"/>
<line x1="370" y1="466.7" x2="384.5" y2="466.7" class="rg"/>
<text x="394.1" y="455.3" class="t" text-anchor="middle">528</text>
<text x="394.1" y="460.4" class="t" text-anchor="middle">(0)</text>
<text x="413.25" y="455.3" class="t" text-anchor="middle">307</text>
<text x="413.25" y="460.4" class="t" text-anchor="middle">(5)</text>
<text x="432.4" y="455.3" class="t" text-anchor="middle">230</text>
<text x="432.4" y="460.4" class="t" text-anchor="middle">(31)</text>
<text x="451.55" y="455.3" class="t" text-anchor="middle">186</text>
<text x="451.55" y="460.4" class="t" text-anchor="middle">(57)</text>
<text x="470.7" y="455.3" class="t" text-anchor="middle">147</text>
<text x="470.7" y="460.4" class="t" text-anchor="middle">(91)</text>
<text x="489.85" y="455.3" class="t" text-anchor="middle">110</text>
<text x="489.85" y="460.4" class="t" text-anchor="middle">(125)</text>
<text x="394.1" y="468.8" class="t" text-anchor="middle">12</text>
<text x="394.1" y="473.7" class="t" text-anchor="middle">(0)</text>
<text x="413.25" y="468.8" class="t" text-anchor="middle">3</text>
<text x="413.25" y="473.7" class="t" text-anchor="middle">(0)</text>
<text x="432.4" y="468.8" class="t" text-anchor="middle">2</text>
<text x="432.4" y="473.7" class="t" text-anchor="middle">(0)</text>
<text x="451.55" y="468.8" class="t" text-anchor="middle">1</text>
<text x="451.55" y="473.7" class="t" text-anchor="middle">(0)</text>
<text x="470.7" y="468.8" class="t" text-anchor="middle">1</text>
<text x="470.7" y="473.7" class="t" text-anchor="middle">(0)</text>
<text x="489.85" y="468.8" class="t" text-anchor="middle">1</text>
<text x="489.85" y="473.7" class="t" text-anchor="middle">(0)</text>
<text x="83.8" y="489.8" class="lab">J</text>
<text transform="translate(98.1,530.5) rotate(-90)" class="ytitle" text-anchor="middle" textLength="57.6" lengthAdjust="spacingAndGlyphs">Event-free survival (%)</text>
<line x1="123.4" y1="495.4" x2="126.4" y2="495.4" class="ax"/>
<text x="120.8" y="497.7" class="tk" text-anchor="end" textLength="16.17" lengthAdjust="spacingAndGlyphs">100%</text>
<line x1="123.4" y1="512.65" x2="126.4" y2="512.65" class="ax"/>
<text x="120.8" y="514.95" class="tk" text-anchor="end" textLength="12.66" lengthAdjust="spacingAndGlyphs">75%</text>
<line x1="123.4" y1="529.9" x2="126.4" y2="529.9" class="ax"/>
<text x="120.8" y="532.2" class="tk" text-anchor="end" textLength="12.66" lengthAdjust="spacingAndGlyphs">50%</text>
<line x1="123.4" y1="547.15" x2="126.4" y2="547.15" class="ax"/>
<text x="120.8" y="549.45" class="tk" text-anchor="end" textLength="12.66" lengthAdjust="spacingAndGlyphs">25%</text>
<line x1="123.4" y1="564.4" x2="126.4" y2="564.4" class="ax"/>
<text x="120.8" y="566.7" class="tk" text-anchor="end" textLength="9.14" lengthAdjust="spacingAndGlyphs">0%</text>
<path d="M131.1,495.4 L131.1,504.58 L135.31,504.58 L136.27,505.75 L138.57,510.03 L141.44,513.82 L144.31,517.62 L147.38,521 L150.25,523.69 L153.51,525.28 L157.72,528.17 L162.7,529.9 L167.48,530.87 L172.08,531.56 L179.55,532.8 L187.02,533.63 L201.95,534.38 L216.89,534.87 L231.45,535.28" class="cr"/>
<path d="M131.1,495.4 L131.1,495.4 L131.1,512.65 L141.06,512.65 L141.06,521.27 L141.82,521.27 L141.82,529.9 L142.59,529.9 L142.59,538.52 L142.97,538.52 L142.97,547.15 L174.19,547.15 L174.19,555.43 L208.47,555.43" class="cg"/>
<path d="M126.4,492.2 L126.4,568.1 L231.4,568.1" class="ax" fill="none"/>
<line x1="131.1" y1="568.1" x2="131.1" y2="571.4" class="ax"/>
<text x="131.1" y="579.7" class="tk" text-anchor="middle">0</text>
<line x1="150.25" y1="568.1" x2="150.25" y2="571.4" class="ax"/>
<text x="150.25" y="579.7" class="tk" text-anchor="middle">1</text>
<line x1="169.4" y1="568.1" x2="169.4" y2="571.4" class="ax"/>
<text x="169.4" y="579.7" class="tk" text-anchor="middle">2</text>
<line x1="188.55" y1="568.1" x2="188.55" y2="571.4" class="ax"/>
<text x="188.55" y="579.7" class="tk" text-anchor="middle">3</text>
<line x1="207.7" y1="568.1" x2="207.7" y2="571.4" class="ax"/>
<text x="207.7" y="579.7" class="tk" text-anchor="middle">4</text>
<line x1="226.85" y1="568.1" x2="226.85" y2="571.4" class="ax"/>
<text x="226.85" y="579.7" class="tk" text-anchor="middle">5</text>
<text x="179" y="590.6" class="xtitle" text-anchor="middle" textLength="70.8" lengthAdjust="spacingAndGlyphs">Years from date of diagnosis</text>
<line x1="146.3" y1="496" x2="154.9" y2="496" class="lr"/>
<line x1="146.3" y1="512" x2="154.9" y2="512" class="lg"/>
<text x="157.6" y="498.3" class="t" textLength="84.6" lengthAdjust="spacingAndGlyphs">No Trisomy 17, 3y–pEFS 44.5%</text>
<text x="157.6" y="505.3" class="t" textLength="55.6" lengthAdjust="spacingAndGlyphs">(95% CI: 40.4–49.1)</text>
<text x="157.6" y="513.8" class="t" textLength="75.5" lengthAdjust="spacingAndGlyphs">Trisomy 17, 3y–pEFS 12.5%</text>
<text x="157.6" y="520.8" class="t" textLength="46.8" lengthAdjust="spacingAndGlyphs">(95% CI: 2–78.2)</text>
<text x="147.2" y="559.7" class="t" textLength="19.3" lengthAdjust="spacingAndGlyphs"><tspan font-style="italic">P</tspan> = .03</text>
<text x="126.2" y="601.3" class="t" textLength="90.2" lengthAdjust="spacingAndGlyphs">Number at risk (number censored)</text>
<line x1="107" y1="609.4" x2="121.5" y2="609.4" class="rr"/>
<line x1="107" y1="622.6" x2="121.5" y2="622.6" class="rg"/>
<text x="131.1" y="610.7" class="t" text-anchor="middle">532</text>
<text x="131.1" y="615.8" class="t" text-anchor="middle">(0)</text>
<text x="150.25" y="610.7" class="t" text-anchor="middle">308</text>
<text x="150.25" y="615.8" class="t" text-anchor="middle">(5)</text>
<text x="169.4" y="610.7" class="t" text-anchor="middle">230</text>
<text x="169.4" y="615.8" class="t" text-anchor="middle">(31)</text>
<text x="188.55" y="610.7" class="t" text-anchor="middle">186</text>
<text x="188.55" y="615.8" class="t" text-anchor="middle">(57)</text>
<text x="207.7" y="610.7" class="t" text-anchor="middle">147</text>
<text x="207.7" y="615.8" class="t" text-anchor="middle">(91)</text>
<text x="226.85" y="610.7" class="t" text-anchor="middle">111</text>
<text x="226.85" y="615.8" class="t" text-anchor="middle">(124)</text>
<text x="131.1" y="624.2" class="t" text-anchor="middle">8</text>
<text x="131.1" y="629.1" class="t" text-anchor="middle">(0)</text>
<text x="150.25" y="624.2" class="t" text-anchor="middle">2</text>
<text x="150.25" y="629.1" class="t" text-anchor="middle">(0)</text>
<text x="169.4" y="624.2" class="t" text-anchor="middle">2</text>
<text x="169.4" y="629.1" class="t" text-anchor="middle">(0)</text>
<text x="188.55" y="624.2" class="t" text-anchor="middle">1</text>
<text x="188.55" y="629.1" class="t" text-anchor="middle">(0)</text>
<text x="207.7" y="624.2" class="t" text-anchor="middle">1</text>
<text x="207.7" y="629.1" class="t" text-anchor="middle">(0)</text>
<text x="226.85" y="624.2" class="t" text-anchor="middle">0</text>
<text x="226.85" y="629.1" class="t" text-anchor="middle">(1)</text>
<text x="272.9" y="489.8" class="lab">K</text>
<text transform="translate(287.2,530.5) rotate(-90)" class="ytitle" text-anchor="middle" textLength="57.6" lengthAdjust="spacingAndGlyphs">Event-free survival (%)</text>
<line x1="312.5" y1="495.4" x2="315.5" y2="495.4" class="ax"/>
<text x="309.9" y="497.7" class="tk" text-anchor="end" textLength="16.17" lengthAdjust="spacingAndGlyphs">100%</text>
<line x1="312.5" y1="512.65" x2="315.5" y2="512.65" class="ax"/>
<text x="309.9" y="514.95" class="tk" text-anchor="end" textLength="12.66" lengthAdjust="spacingAndGlyphs">75%</text>
<line x1="312.5" y1="529.9" x2="315.5" y2="529.9" class="ax"/>
<text x="309.9" y="532.2" class="tk" text-anchor="end" textLength="12.66" lengthAdjust="spacingAndGlyphs">50%</text>
<line x1="312.5" y1="547.15" x2="315.5" y2="547.15" class="ax"/>
<text x="309.9" y="549.45" class="tk" text-anchor="end" textLength="12.66" lengthAdjust="spacingAndGlyphs">25%</text>
<line x1="312.5" y1="564.4" x2="315.5" y2="564.4" class="ax"/>
<text x="309.9" y="566.7" class="tk" text-anchor="end" textLength="9.14" lengthAdjust="spacingAndGlyphs">0%</text>
<path d="M320.2,495.4 L320.2,504.58 L324.41,504.58 L325.37,505.75 L327.67,510.03 L330.54,513.82 L333.41,517.62 L336.48,521 L339.35,523.69 L342.61,525.28 L346.82,528.17 L351.8,529.9 L356.58,530.87 L361.18,531.56 L368.65,532.8 L376.12,533.63 L391.06,534.38 L405.99,534.87 L420.55,534.87" class="cr"/>
<path d="M320.2,495.4 L320.2,495.4 L320.2,527.28 L324.41,527.28 L324.41,532.52 L327.48,532.52 L327.48,537.83 L335.52,537.83 L335.52,548.46 L342.61,548.46 L342.61,553.57 L421.12,553.57" class="cg"/>
<path d="M315.5,492.2 L315.5,568.1 L420.5,568.1" class="ax" fill="none"/>
<line x1="320.2" y1="568.1" x2="320.2" y2="571.4" class="ax"/>
<text x="320.2" y="579.7" class="tk" text-anchor="middle">0</text>
<line x1="339.35" y1="568.1" x2="339.35" y2="571.4" class="ax"/>
<text x="339.35" y="579.7" class="tk" text-anchor="middle">1</text>
<line x1="358.5" y1="568.1" x2="358.5" y2="571.4" class="ax"/>
<text x="358.5" y="579.7" class="tk" text-anchor="middle">2</text>
<line x1="377.65" y1="568.1" x2="377.65" y2="571.4" class="ax"/>
<text x="377.65" y="579.7" class="tk" text-anchor="middle">3</text>
<line x1="396.8" y1="568.1" x2="396.8" y2="571.4" class="ax"/>
<text x="396.8" y="579.7" class="tk" text-anchor="middle">4</text>
<line x1="415.95" y1="568.1" x2="415.95" y2="571.4" class="ax"/>
<text x="415.95" y="579.7" class="tk" text-anchor="middle">5</text>
<text x="368.1" y="590.6" class="xtitle" text-anchor="middle" textLength="70.8" lengthAdjust="spacingAndGlyphs">Years from date of diagnosis</text>
<line x1="335.6" y1="496" x2="344.2" y2="496" class="lr"/>
<line x1="335.6" y1="512" x2="344.2" y2="512" class="lg"/>
<text x="346.9" y="498.3" class="t" textLength="82" lengthAdjust="spacingAndGlyphs">No Trisomy X, 5y–pEFS 42.4%</text>
<text x="346.9" y="505.3" class="t" textLength="54.7" lengthAdjust="spacingAndGlyphs">(95% CI: 38.3–47.1)</text>
<text x="346.9" y="513.8" class="t" textLength="72.9" lengthAdjust="spacingAndGlyphs">Trisomy X, 5y–pEFS 15.4%</text>
<text x="346.9" y="520.8" class="t" textLength="47.4" lengthAdjust="spacingAndGlyphs">(95% CI: 4.3–55)</text>
<text x="336.3" y="559.7" class="t" textLength="19.3" lengthAdjust="spacingAndGlyphs"><tspan font-style="italic">P</tspan> &lt; .01</text>
<text x="315.3" y="601.3" class="t" textLength="90.2" lengthAdjust="spacingAndGlyphs">Number at risk (number censored)</text>
<line x1="296.1" y1="609.4" x2="310.6" y2="609.4" class="rr"/>
<line x1="296.1" y1="622.6" x2="310.6" y2="622.6" class="rg"/>
<text x="320.2" y="610.7" class="t" text-anchor="middle">527</text>
<text x="320.2" y="615.8" class="t" text-anchor="middle">(0)</text>
<text x="339.35" y="610.7" class="t" text-anchor="middle">307</text>
<text x="339.35" y="615.8" class="t" text-anchor="middle">(5)</text>
<text x="358.5" y="610.7" class="t" text-anchor="middle">230</text>
<text x="358.5" y="615.8" class="t" text-anchor="middle">(31)</text>
<text x="377.65" y="610.7" class="t" text-anchor="middle">186</text>
<text x="377.65" y="615.8" class="t" text-anchor="middle">(56)</text>
<text x="396.8" y="610.7" class="t" text-anchor="middle">147</text>
<text x="396.8" y="615.8" class="t" text-anchor="middle">(90)</text>
<text x="415.95" y="610.7" class="t" text-anchor="middle">110</text>
<text x="415.95" y="615.8" class="t" text-anchor="middle">(124)</text>
<text x="320.2" y="624.2" class="t" text-anchor="middle">13</text>
<text x="320.2" y="629.1" class="t" text-anchor="middle">(0)</text>
<text x="339.35" y="624.2" class="t" text-anchor="middle">3</text>
<text x="339.35" y="629.1" class="t" text-anchor="middle">(0)</text>
<text x="358.5" y="624.2" class="t" text-anchor="middle">2</text>
<text x="358.5" y="629.1" class="t" text-anchor="middle">(0)</text>
<text x="377.65" y="624.2" class="t" text-anchor="middle">1</text>
<text x="377.65" y="629.1" class="t" text-anchor="middle">(1)</text>
<text x="396.8" y="624.2" class="t" text-anchor="middle">1</text>
<text x="396.8" y="629.1" class="t" text-anchor="middle">(1)</text>
<text x="415.95" y="624.2" class="t" text-anchor="middle">1</text>
<text x="415.95" y="629.1" class="t" text-anchor="middle">(1)</text>
<line x1="0" y1="0.5" x2="520" y2="0.5" stroke="#666"/>
<line x1="0.5" y1="0" x2="0.5" y2="638" stroke="#5a5a5a"/>
<line x1="519.5" y1="0" x2="519.5" y2="638" stroke="#4a4a4a"/>
<line x1="0" y1="637.5" x2="520" y2="637.5" stroke="#4a4a4a"/>
</svg></body></html>
